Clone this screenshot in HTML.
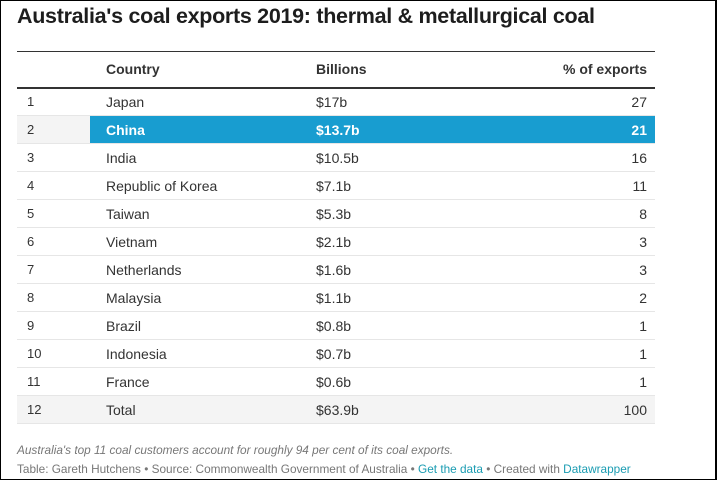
<!DOCTYPE html>
<html><head><meta charset="utf-8"><style>
*{margin:0;padding:0;box-sizing:border-box}
body{width:717px;height:480px;background:#fff;font-family:"Liberation Sans",sans-serif;overflow:hidden}
#frame{position:absolute;left:0;top:0;width:717px;height:480px;border:1px solid #000;border-right-width:2px}
h1{position:absolute;left:17px;top:4px;font-size:21.5px;font-weight:bold;color:#1d1d1d;letter-spacing:-0.3px}
table{position:absolute;left:17px;top:51px;width:638px;border-collapse:collapse;border-top:1px solid #333;font-size:14px;color:#333}
th{height:36px;text-align:left;font-weight:bold;border-bottom:2px solid #333;font-size:14px}
td{height:28px;border-bottom:1px solid #e6e6e6}
.r{width:73px;padding-left:10px;font-size:13px}
.c{width:226px;padding-left:16px}
.b{width:210px}
.p{text-align:right;padding-right:8px}
tr.hl td.x{background:#189dd0;color:#fff;font-weight:bold}
tr.hl td.r,tr.tot td{background:#f4f4f4}
.note{position:absolute;left:17px;font-size:11.8px;color:#777}
a{color:#1a9cb2;text-decoration:none}
</style></head><body>
<div id="frame"></div>
<h1>Australia's coal exports 2019: thermal &amp; metallurgical coal</h1>
<table>
<tr><th class="r"></th><th class="c">Country</th><th class="b">Billions</th><th class="p">% of exports</th></tr>
<tr><td class="r">1</td><td class="c">Japan</td><td class="b">$17b</td><td class="p">27</td></tr>
<tr class="hl"><td class="r">2</td><td class="c x">China</td><td class="b x">$13.7b</td><td class="p x">21</td></tr>
<tr><td class="r">3</td><td class="c">India</td><td class="b">$10.5b</td><td class="p">16</td></tr>
<tr><td class="r">4</td><td class="c">Republic of Korea</td><td class="b">$7.1b</td><td class="p">11</td></tr>
<tr><td class="r">5</td><td class="c">Taiwan</td><td class="b">$5.3b</td><td class="p">8</td></tr>
<tr><td class="r">6</td><td class="c">Vietnam</td><td class="b">$2.1b</td><td class="p">3</td></tr>
<tr><td class="r">7</td><td class="c">Netherlands</td><td class="b">$1.6b</td><td class="p">3</td></tr>
<tr><td class="r">8</td><td class="c">Malaysia</td><td class="b">$1.1b</td><td class="p">2</td></tr>
<tr><td class="r">9</td><td class="c">Brazil</td><td class="b">$0.8b</td><td class="p">1</td></tr>
<tr><td class="r">10</td><td class="c">Indonesia</td><td class="b">$0.7b</td><td class="p">1</td></tr>
<tr><td class="r">11</td><td class="c">France</td><td class="b">$0.6b</td><td class="p">1</td></tr>
<tr class="tot"><td class="r">12</td><td class="c">Total</td><td class="b">$63.9b</td><td class="p">100</td></tr>
</table>
<div class="note" style="top:443px;font-style:italic">Australia's top 11 coal customers account for roughly 94 per cent of its coal exports.</div>
<div class="note" style="top:462px">Table: Gareth Hutchens • Source: Commonwealth Government of Australia • <a>Get the data</a> • Created with <a>Datawrapper</a></div>
</body></html>
